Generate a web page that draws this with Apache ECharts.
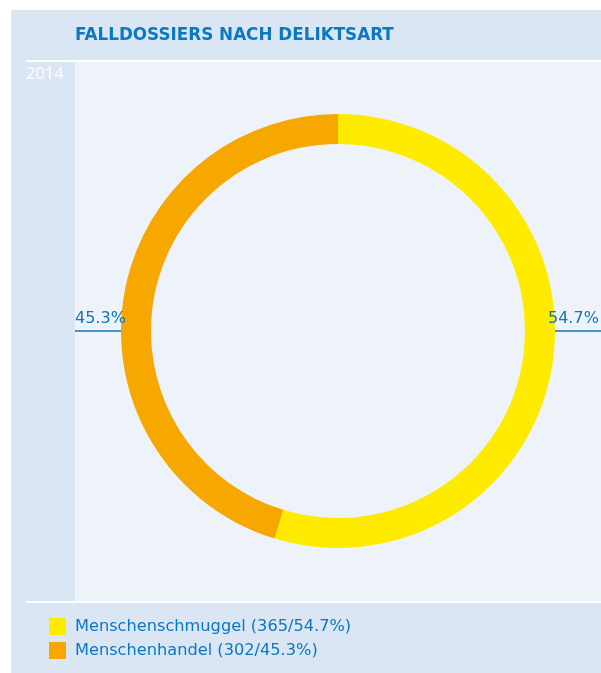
<!doctype html>
<html>
<head>
    <meta charset="UTF-8">
    <title>Falldossiers nach Deliktsart</title>
    <script src="https://cdn.jsdelivr.net/npm/echarts@6/dist/echarts.min.js"></script>
    <style>
        html, body { margin: 0; padding: 0; background: #fff; }
        #main { width: 601px; height: 673px; }
    </style>
</head>
<body>
<div id="main"></div>
<script>
    var titleText = 'FALLDOSSIERS NACH DELIKTSART';
    var yearLabel = '2014';
    var categories = ['Menschenschmuggel', 'Menschenhandel'];
    var values = [365, 302];
    var percents = ['54.7', '45.3'];
    var colors = ['#ffeb00', '#f7a800'];

    var blue = '#0b78bf';
    var font = '"DejaVu Sans", "Open Sans", sans-serif';

    var data = categories.map(function (name, i) {
        return { name: name, value: values[i], itemStyle: { color: colors[i] } };
    });

    var myChart = echarts.init(document.getElementById('main'));

    var option = {
        animation: false,
        backgroundColor: '#ffffff',
        title: {
            text: titleText,
            left: 75,
            top: 27,
            padding: 0,
            textStyle: { color: blue, fontSize: 16.8, fontWeight: 'bold', fontFamily: font }
        },
        graphic: [
            { type: 'rect', z: -10, shape: { x: 11, y: 10, width: 590, height: 663 }, style: { fill: '#dae6f3' } },
            { type: 'rect', z: -9, shape: { x: 26, y: 60, width: 575, height: 2 }, style: { fill: '#ffffff' } },
            { type: 'rect', z: -9, shape: { x: 75, y: 62, width: 526, height: 539 }, style: { fill: '#eef3fa' } },
            { type: 'rect', z: -9, shape: { x: 26, y: 601, width: 575, height: 2 }, style: { fill: '#ffffff' } },
            { type: 'text', z: -8, left: 26, top: 66,
              style: { text: yearLabel, fill: '#ffffff', fontSize: 16.5, fontFamily: '"Open Sans", sans-serif' } }
        ],
        legend: {
            orient: 'vertical',
            left: 49,
            top: 618,
            padding: 0,
            itemWidth: 17,
            itemHeight: 17,
            itemGap: 7,
            icon: 'rect',
            selectedMode: false,
            data: categories,
            formatter: function (name) {
                var i = categories.indexOf(name);
                return name + ' (' + values[i] + '/' + percents[i] + '%)';
            },
            textStyle: { color: blue, fontSize: 16.2, fontFamily: font, padding: [1, 0, 0, 4] }
        },
        series: [
            {
                type: 'pie',
                center: [338, 331],
                radius: [187, 217],
                startAngle: 90,
                clockwise: true,
                silent: true,
                avoidLabelOverlap: false,
                data: data,
                label: {
                    show: true,
                    overflow: 'none',
                    formatter: function (p) { return percents[p.dataIndex] + '%'; },
                    color: blue,
                    fontSize: 16,
                    fontFamily: font
                },
                labelLine: {
                    show: true, length: 5, length2: 5,
                    lineStyle: { color: blue, width: 1.5, opacity: 1 }
                },
                labelLayout: function (p) {
                    if (p.dataIndex === 0) {
                        return {
                            x: 548, y: 319, align: 'left', verticalAlign: 'middle',
                            labelLinePoints: [[544, 331], [601, 331], [601, 331]]
                        };
                    }
                    return {
                        x: 75, y: 319, align: 'left', verticalAlign: 'middle',
                        labelLinePoints: [[131, 331], [75, 331], [75, 331]]
                    };
                }
            }
        ]
    };

    myChart.setOption(option);
</script>
</body>
</html>
